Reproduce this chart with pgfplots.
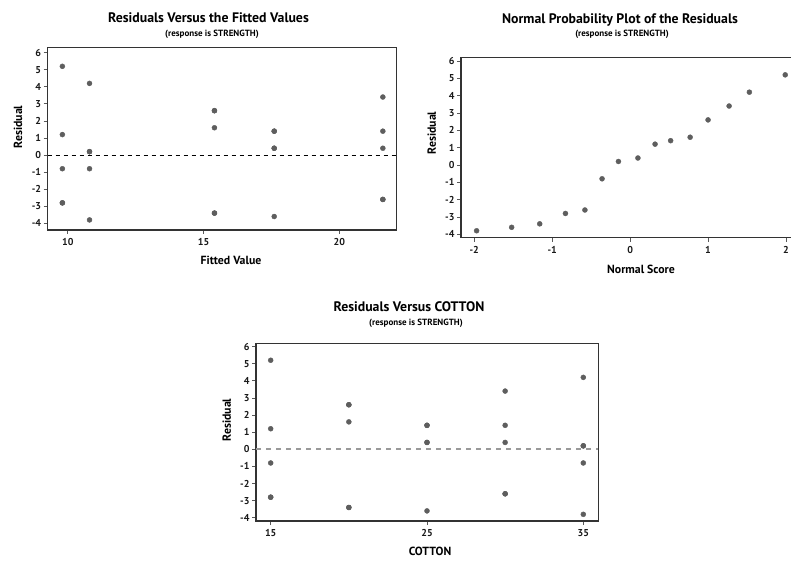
\documentclass[border=0pt]{standalone}
\usepackage{fontspec}
\setmainfont{PT Sans}
\usepackage{pgfplots}
\pgfplotsset{compat=1.18}

\definecolor{dotc}{HTML}{5E5E5E}
\definecolor{framec}{HTML}{333333}

\pgfplotsset{
  resid/.style={
    scale only axis,
    axis line style={line width=1.3pt, draw=framec},
    tick align=outside, tick pos=left,
    major tick length=4pt,
    tick style={draw=black!65, line width=0.8pt},
    ticklabel style={font=\bfseries\fontsize{10}{11}\selectfont, text=black!90},
    xticklabel style={yshift=-1pt},
    yticklabel style={xshift=1pt},
    /pgf/number format/assume math mode=true,
    xticklabel={\textbf{\pgfmathprintnumber{\tick}}},
    yticklabel={\textbf{\pgfmathprintnumber{\tick}}},
    ytick={-4,-3,-2,-1,0,1,2,3,4,5,6},
  },
  dots/.style={only marks, mark=*, mark size=2.5pt,
      mark options={fill=dotc, draw=dotc}},
}

\pgfplotstableread{
fit cotton res
9.8 15 -2.8
9.8 15 -2.8
9.8 15 5.2
9.8 15 1.2
9.8 15 -0.8
15.4 20 -3.4
15.4 20 1.6
15.4 20 -3.4
15.4 20 2.6
15.4 20 2.6
17.6 25 -3.6
17.6 25 0.4
17.6 25 0.4
17.6 25 1.4
17.6 25 1.4
21.6 30 -2.6
21.6 30 3.4
21.6 30 0.4
21.6 30 -2.6
21.6 30 1.4
10.8 35 -3.8
10.8 35 -0.8
10.8 35 0.2
10.8 35 4.2
10.8 35 0.2
}\residtable

\pgfplotstableread{
score res
-1.97 -3.8
-1.52 -3.6
-1.16 -3.4
-0.83 -2.8
-0.58 -2.6
-0.36 -0.8
-0.15 0.2
0.10 0.4
0.32 1.2
0.52 1.4
0.77 1.6
1.00 2.6
1.27 3.4
1.53 4.2
1.99 5.2
}\normtable

\newcommand{\ttl}{\bfseries\fontsize{13.8}{15}\selectfont}
\newcommand{\sub}{\bfseries\fontsize{9}{10}\selectfont}
\newcommand{\lab}{\bfseries\fontsize{11.8}{13}\selectfont}

\begin{document}
\begin{tikzpicture}[x=1pt,y=1pt]
\path[use as bounding box] (0,0) rectangle (791,560);

% ---------- Top left: residuals vs fitted ----------
\begin{axis}[resid,
  at={(47.7pt,330pt)}, anchor=south west,
  width=349pt, height=182.3pt,
  xmin=9.26, xmax=22.11, ymin=-4.39, ymax=6.29,
  xtick={10,15,20}]
  \addplot[black, line width=0.9pt, dash pattern=on 4pt off 4pt, no marks, sharp plot]
    coordinates {(9.26,0) (22.11,0)};
  \addplot[dots] table[x=fit, y=res] {\residtable};
\end{axis}
\node[font=\ttl] at (208.5,542) {Residuals Versus the Fitted Values};
\node[font=\sub] at (212,526) {(response is STRENGTH)};
\node[font=\lab] at (231,299.5) {Fitted Value};
\node[font=\lab, rotate=90] at (18,433) {Residual};

% ---------- Top right: normal probability plot ----------
\begin{axis}[resid,
  at={(461pt,322.3pt)}, anchor=south west,
  width=332pt, height=180pt,
  xmin=-2.17, xmax=2.09, ymin=-4.2, ymax=6.19,
  xtick={-2,-1,0,1,2}]
  \addplot[dots] table[x=score, y=res] {\normtable};
\end{axis}
\node[font=\ttl] at (620,540) {Normal Probability Plot of the Residuals};
\node[font=\sub] at (622,526) {(response is STRENGTH)};
\node[font=\lab] at (641,290.7) {Normal Score};
\node[font=\lab, rotate=90] at (431.7,427) {Residual};

% ---------- Bottom: residuals vs cotton ----------
\begin{axis}[resid,
  at={(256pt,39pt)}, anchor=south west,
  width=342.3pt, height=177.7pt,
  xmin=14.06, xmax=35.96, ymin=-4.19, ymax=6.19,
  xtick={15,25,35}]
  \addplot[black!40, line width=1.6pt, dash pattern=on 5pt off 5pt, no marks, sharp plot]
    coordinates {(14.06,0) (35.96,0)};
  \addplot[dots] table[x=cotton, y=res] {\residtable};
\end{axis}
\node[font=\ttl] at (409,253.3) {Residuals Versus COTTON};
\node[font=\sub] at (416,236.7) {(response is STRENGTH)};
\node[font=\lab] at (430,8.3) {COTTON};
\node[font=\lab, rotate=90] at (226.7,140) {Residual};
\end{tikzpicture}
\end{document}
